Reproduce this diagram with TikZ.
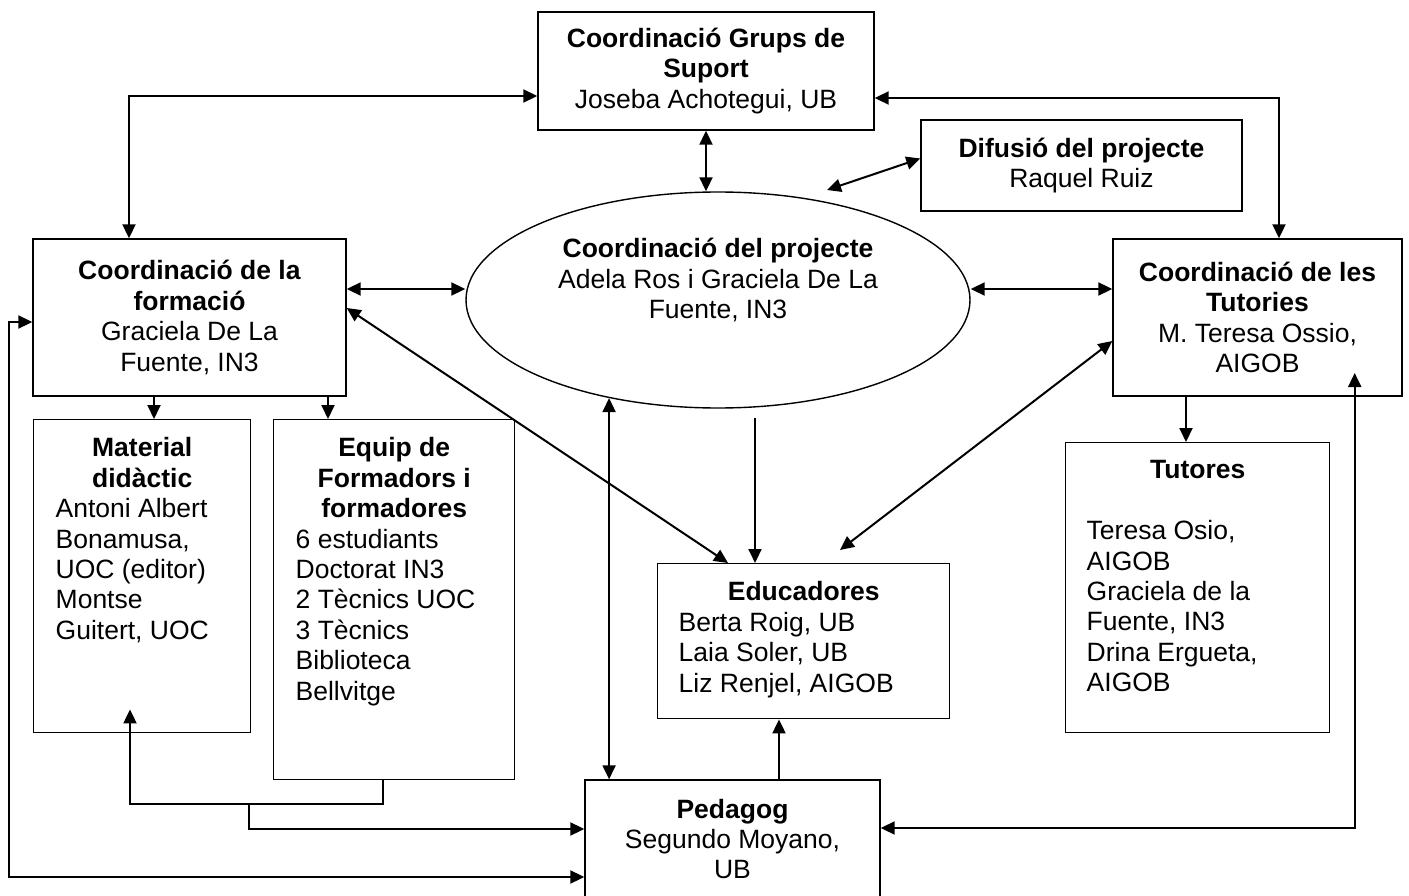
\documentclass[tikz,border=0pt]{standalone}
\usepackage{fontspec}
\setmainfont{Liberation Sans}
\usetikzlibrary{shapes.geometric}
\usetikzlibrary{arrows.meta}
\newcommand{\boxtext}[4]{\parbox[c][#1][t]{#2}{\centering\bfseries #3\par\raggedright\mdseries #4}}

\begin{document}
\begin{tikzpicture}[x=1pt,y=-1pt,
  font=\fontsize{26.5}{30.4}\selectfont,
  box/.style={draw,line width=1.4pt,inner sep=0pt,align=center},
  link/.style={line width=2pt,>={Triangle[length=14pt,width=13pt]}}]
\useasboundingbox (0,0) rectangle (1409,896);

\node[box,minimum width=336pt,minimum height=118pt] (suport) at (706,71) {\textbf{Coordinació Grups de}\\\textbf{Suport}\\Joseba Achotegui, UB}; %top box
\node[box,minimum width=321pt,minimum height=91pt] (difusio) at (1081.5,165.5) {\textbf{Difusió del projecte}\\Raquel Ruiz};
\node[box,ellipse,minimum width=504pt,minimum height=216pt] (projecte) at (718,300) {\parbox[c][123pt][t]{340pt}{\centering\textbf{Coordinació del projecte}\\Adela Ros i Graciela De La\\Fuente, IN3}};
\node[box,minimum width=313pt,minimum height=157pt] (formacio) at (189.5,317.5) {\textbf{Coordinació de la}\\\textbf{formació}\\Graciela De La\\Fuente, IN3};
\node[box,minimum width=289pt,minimum height=157pt] (tutories) at (1257.5,317.5) {\textbf{Coordinació de les}\\\textbf{Tutories}\\M. Teresa Ossio,\\AIGOB};

\node[box,anchor=north west,minimum width=217pt,minimum height=313pt] (material) at (33,419) {\boxtext{277pt}{173pt}{Material\\didàctic}{Antoni Albert\\Bonamusa,\\UOC (editor)\\Montse\\Guitert, UOC}}; %lower boxes
\node[box,anchor=north west,minimum width=241pt,minimum height=360pt] (equip) at (273,419) {\boxtext{324pt}{197pt}{Equip de\\Formadors i\\formadores}{6 estudiants\\Doctorat IN3\\2 Tècnics UOC\\3 Tècnics\\Biblioteca\\Bellvitge}};
\node[box,anchor=north west,minimum width=292pt,minimum height=155pt] (educadores) at (657,563) {\boxtext{119pt}{250pt}{Educadores}{Berta Roig, UB\\Laia Soler, UB\\Liz Renjel, AIGOB}};
\node[box,anchor=north west,minimum width=264pt,minimum height=290pt] (tutores) at (1065,442) {\boxtext{254pt}{222pt}{Tutores\\\mbox{}}{Teresa Osio,\\AIGOB\\Graciela de la\\Fuente, IN3\\Drina Ergueta,\\AIGOB}};
\node[box,minimum width=295pt,minimum height=118pt] (pedagog) at (732.5,839) {\textbf{Pedagog}\\Segundo Moyano,\\UB};

\coordinate (difusio tip) at (827,190); %free ends
\coordinate (educadores tip) at (840,550);
\coordinate (material join) at (249,803);

\draw[link,<->] (suport.west |- 0,96) -| (formacio.north -| 129,0); %top
\draw[link,<->] (suport.east |- 0,98) -| (tutories.north -| 1279,0);
\draw[link,<->] (suport.south) -- (suport.south |- projecte.north);
\draw[link,<->] ([yshift=7pt]difusio.west) -- (difusio tip);

\draw[link,<->] (formacio.east |- 0,289) -- (projecte.west |- 0,289); %middle
\draw[link,<->] (projecte.east |- 0,289) -- (tutories.west |- 0,289);
\draw[link,<->] (formacio.east |- 0,308) -- (educadores.north -| 728,0);
\draw[link,->,shorten <=10pt] (projecte.289) -- (projecte.289 |- educadores.north);
\draw[link,<->] (pedagog.north -| projecte.222) -- (projecte.222);
\draw[link,<->] (tutories.west |- 0,341) -- (educadores tip);
\draw[link,->] (pedagog.north -| 779,0) -- (educadores.south -| 779,0);

\draw[link,->] (formacio.south -| 154,0) -- (material.north -| 154,0); %left
\draw[link,->] (formacio.south -| 328,0) -- (equip.north -| 328,0);
\draw[link,->] (equip.south -| 383,0) -- ++(0,24) -- ++(-253,0) -- ++(0,-95);
\draw[link,->] (material join) |- (pedagog.west |- 0,829);
\draw[link,<->] (pedagog.west |- 0,877) -- ++(-575,0) |- (formacio.west |- 0,322);

\draw[link,<->] (pedagog.east |- 0,828) -- ++(474,0) -- ++(0,-455); %right
\draw[link,->] (tutories.south -| 1186,0) -- (tutores.north -| 1186,0);

\end{tikzpicture}
\end{document}
